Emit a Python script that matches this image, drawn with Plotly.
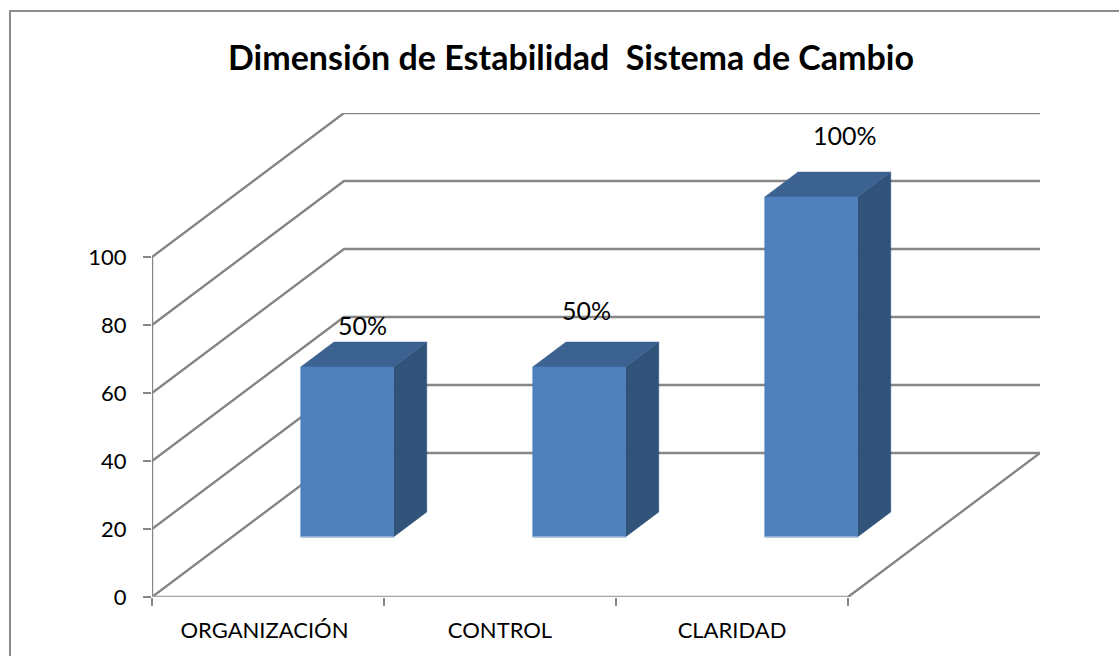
import plotly.graph_objects as go

categories = ["ORGANIZACIÓN", "CONTROL", "CLARIDAD"]
values = [50, 50, 100]
labels = ["50%", "50%", "100%"]
y_ticks = [0, 20, 40, 60, 80, 100]

# oblique projection of the pseudo-3D box (depth 0..1 -> shift in axis units)
DX = 192 / 232
DY = 144 / 3.4
BAR_L, BAR_R = 0.296, 0.696
Z0, Z1 = 0.4167, 0.59
X_MAX = len(categories)
x_top = X_MAX + DX
y_top = 100 + DY

GRID = "#868686"
FRONT, TOP, SIDE, BASE = "#4F81BD", "#3C6291", "#31537A", "#A9BFDA"
FONT = "Lato, Carlito, Calibri, sans-serif"


def p(x, v, z):
    return x + z * DX, v + z * DY


def line(pts, color=GRID, width=2.4):
    xs, ys = zip(*pts)
    return go.Scatter(x=xs, y=ys, mode="lines", line=dict(color=color, width=width),
                      hoverinfo="skip", showlegend=False)


def poly(pts, color):
    xs, ys = zip(*(pts + pts[:1]))
    return go.Scatter(x=xs, y=ys, mode="lines", fill="toself", fillcolor=color,
                      line=dict(color=color, width=0.5), hoverinfo="skip", showlegend=False)


fig = go.Figure()

# walls and gridlines
for v in y_ticks:
    fig.add_trace(line([p(0, v, 0), p(0, v, 1), p(X_MAX, v, 1)]))
fig.add_trace(line([p(0, 0, 0), p(0, 100, 0)]))
fig.add_trace(line([p(0, 0, 0), p(X_MAX, 0, 0)], color="#A6A6A6"))
fig.add_trace(line([p(X_MAX, 0, 0), p(X_MAX, 0, 1)]))

# bars
for i, val in enumerate(values):
    l, r = i + BAR_L, i + BAR_R
    fig.add_trace(poly([p(r, 0, Z0), p(r, 0, Z1), p(r, val, Z1), p(r, val, Z0)], SIDE))
    fig.add_trace(poly([p(l, val, Z0), p(r, val, Z0), p(r, val, Z1), p(l, val, Z1)], TOP))
    fig.add_trace(poly([p(l, 0, Z0), p(r, 0, Z0), p(r, val, Z0), p(l, val, Z0)], FRONT))
    fig.add_trace(line([p(l, 0, Z0), p(r, 0, Z0)], color=BASE, width=1.5))

# data labels
label_shift = [(-2, 30), (-10, 45), (17, 50)]
annotations = []
for i, val in enumerate(values):
    ax, ay = p(i + 0.5, val, 0.5)
    annotations.append(dict(x=ax, y=ay, xref="x", yref="y", text=labels[i], showarrow=False,
                            xshift=label_shift[i][0], yshift=label_shift[i][1],
                            font=dict(family=FONT, size=25, color="#000000")))

PW, PH = 888, 484
fig.update_layout(
    width=1119, height=656,
    margin=dict(l=152, r=79, t=113, b=59, pad=0),
    paper_bgcolor="white", plot_bgcolor="white",
    showlegend=False,
    title=dict(text="<b>Dimensión de Estabilidad  Sistema de Cambio</b>",
               x=571 / 1119, xref="container", xanchor="center",
               y=1 - 58 / 656, yref="container", yanchor="middle",
               font=dict(family=FONT, size=34, color="#000000")),
    xaxis=dict(range=[0, x_top], tickvals=[0.485, 1.5, 2.5], ticktext=categories,
               ticks="", showgrid=False, zeroline=False, showline=False,
               tickfont=dict(family=FONT, size=22, color="#000000"), ticklabelstandoff=18,
               minor=dict(tickvals=list(range(X_MAX + 1)), ticks="outside", ticklen=8,
                          tickcolor=GRID, tickwidth=1.5, showgrid=False)),
    yaxis=dict(range=[0, y_top], tickvals=y_ticks, ticks="outside", ticklen=8, tickcolor=GRID,
               tickwidth=1.5, showgrid=False, zeroline=False, showline=False,
               tickfont=dict(family=FONT, size=22, color="#000000"), ticklabelstandoff=12),
    annotations=annotations,
    shapes=[
        dict(type="line", xref="paper", yref="paper",
             x0=-142 / PW, x1=967 / PW, y0=1 + 102 / PH, y1=1 + 102 / PH,
             line=dict(color="#8C8C8C", width=2)),
        dict(type="line", xref="paper", yref="paper",
             x0=-142 / PW, x1=-142 / PW, y0=-59 / PH, y1=1 + 103 / PH,
             line=dict(color="#8C8C8C", width=2)),
    ],
)

fig.write_html("out.html", config={"displayModeBar": False},
               post_script="document.body.style.margin='0';")
